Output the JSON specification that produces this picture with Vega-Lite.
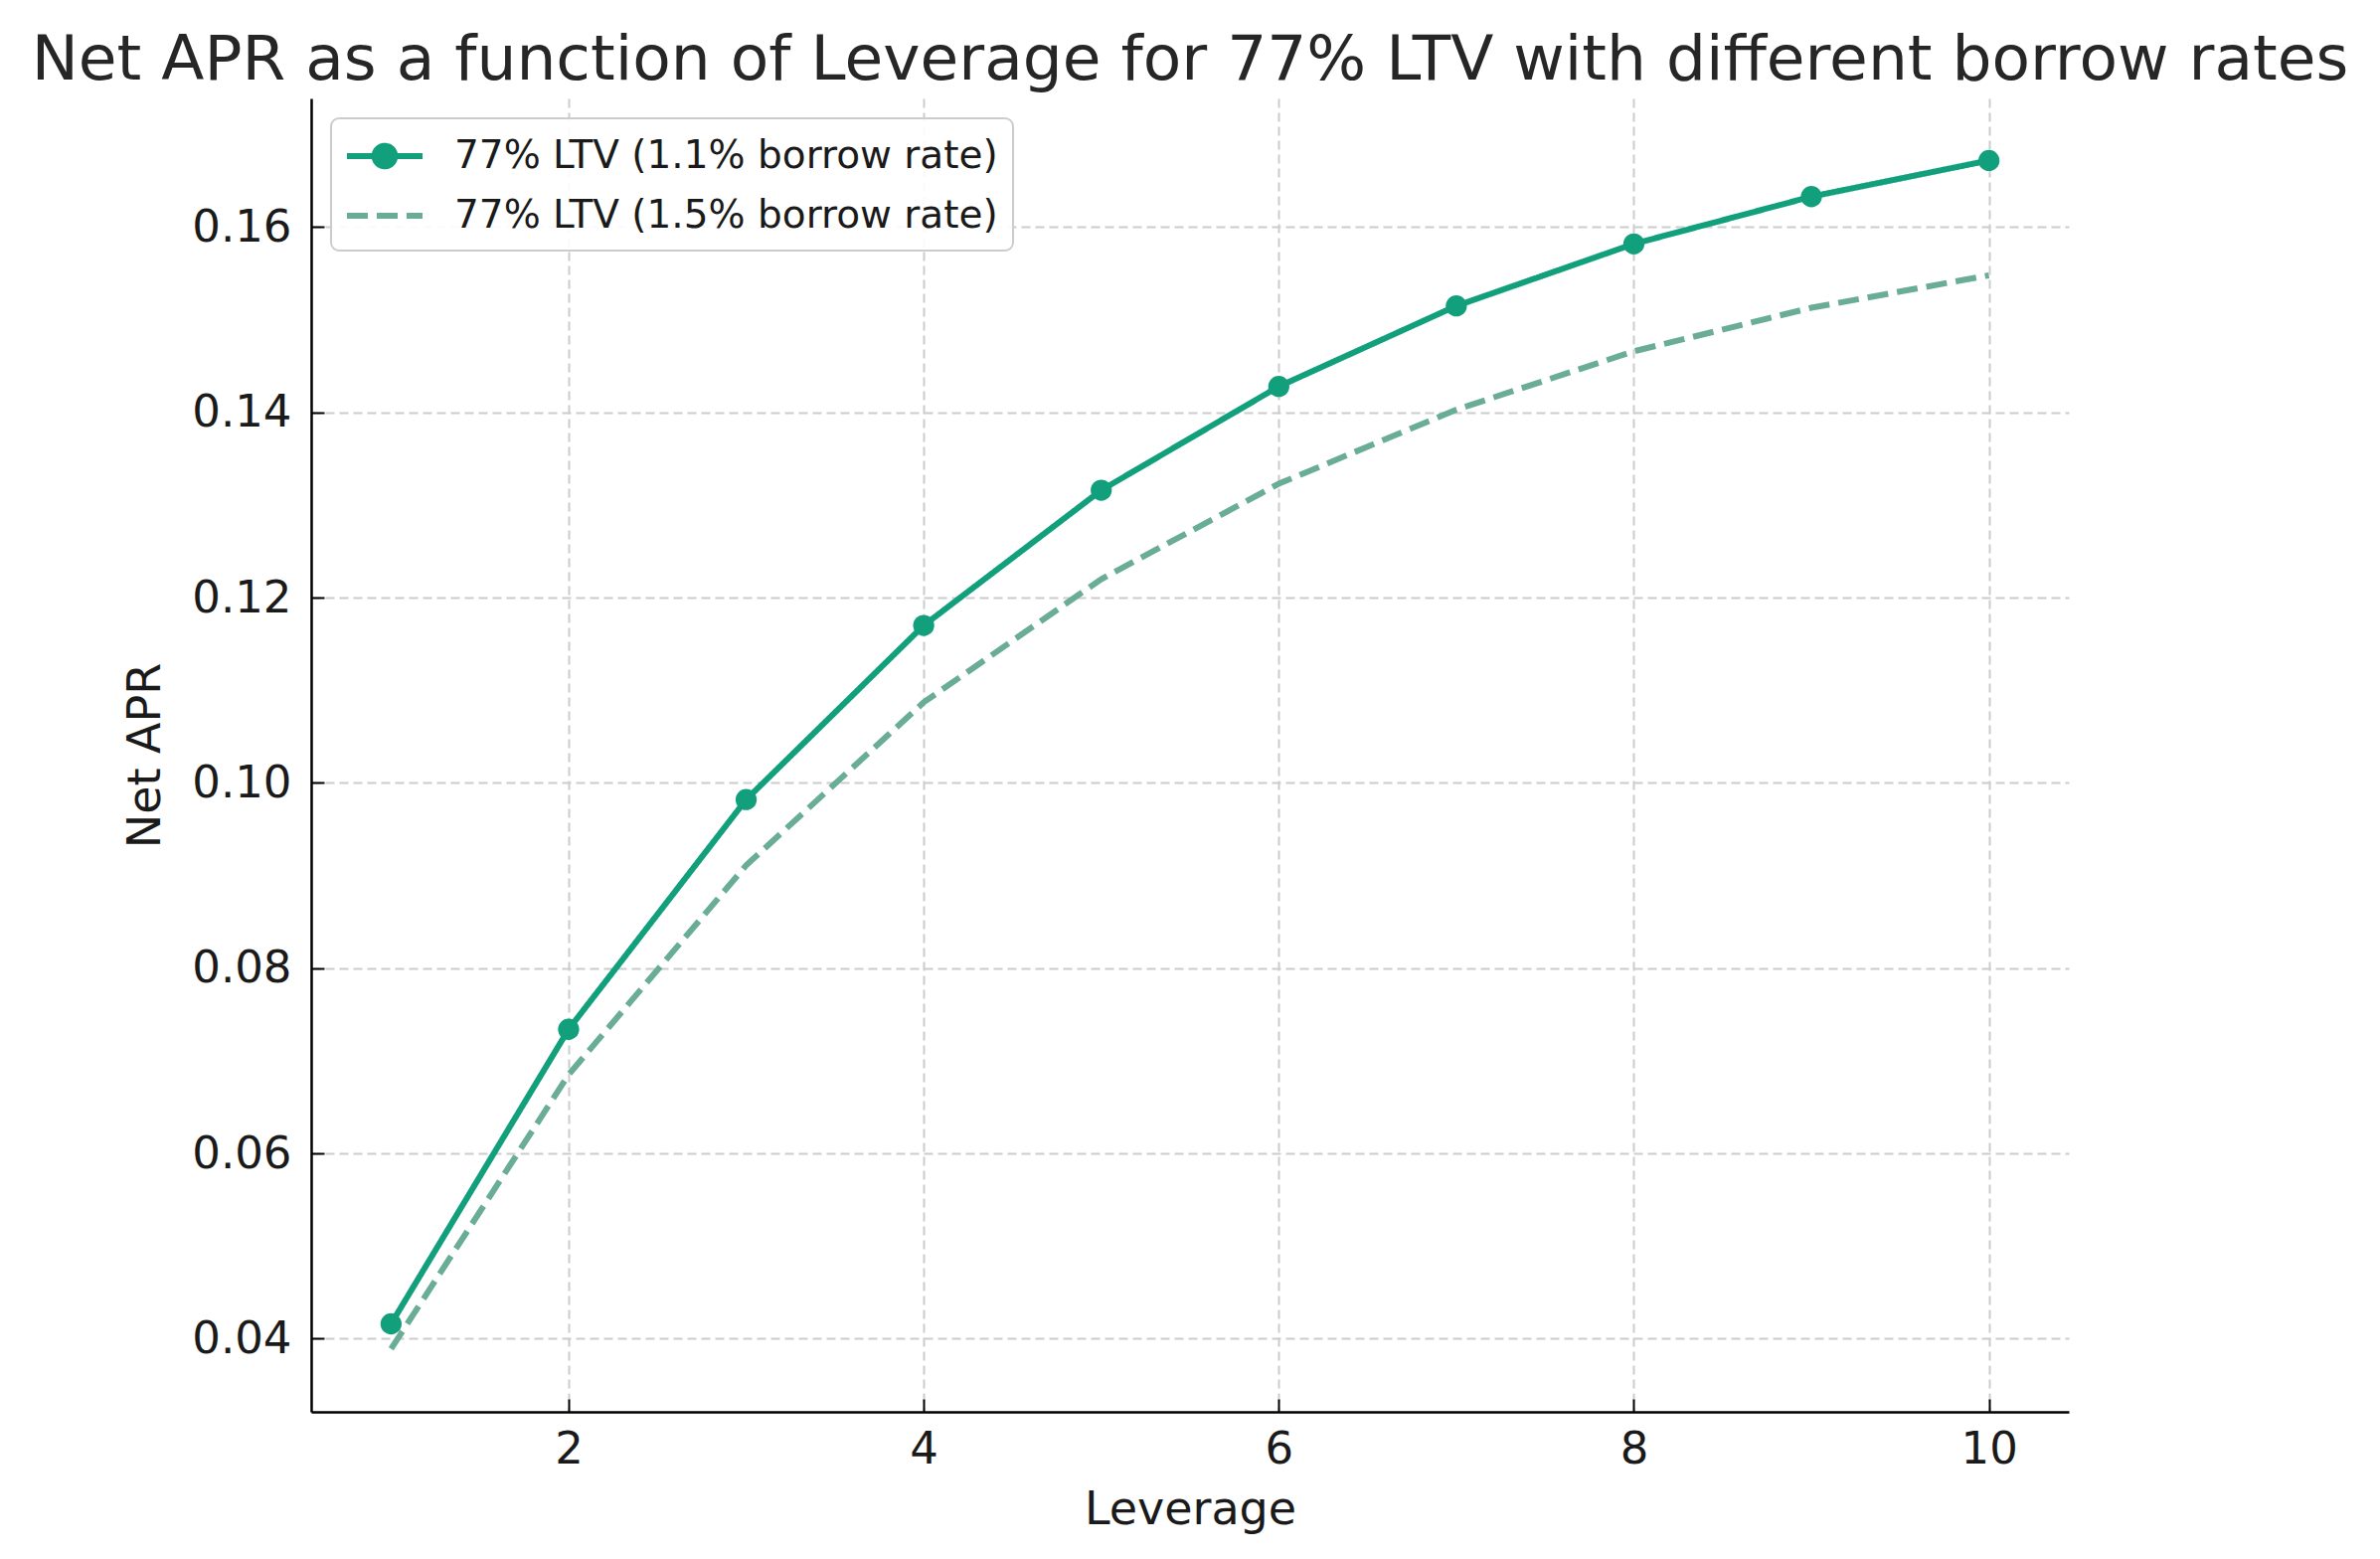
{
  "$schema": "https://vega.github.io/schema/vega-lite/v6.json",
  "width": 1768,
  "height": 1321,
  "autosize": {"type": "none"},
  "padding": {"left": 313, "top": 99, "right": 313, "bottom": 148},
  "background": "white",
  "title": {
    "text": "Net APR as a function of Leverage for 77% LTV with different borrow rates",
    "font": "DejaVu Sans",
    "fontSize": 63,
    "fontWeight": "normal",
    "color": "#262626",
    "anchor": "middle",
    "baseline": "alphabetic",
    "offset": -44
  },
  "config": {
    "font": "DejaVu Sans",
    "view": {"stroke": null},
    "axis": {
      "domainColor": "#000000",
      "domainWidth": 2.5,
      "tickColor": "#000000",
      "tickWidth": 2,
      "tickSize": -13,
      "labelFont": "DejaVu Sans",
      "labelFontSize": 45,
      "labelColor": "#1a1a1a",
      "titleFont": "DejaVu Sans",
      "titleFontSize": 46,
      "titleFontWeight": "normal",
      "titleColor": "#1a1a1a",
      "gridColor": "#cccccc",
      "gridDash": [9, 5],
      "gridWidth": 2
    }
  },
  "data": {
    "values": [
      {"lev": 1, "apr": 0.0416, "series": "77% LTV (1.1% borrow rate)"},
      {"lev": 2, "apr": 0.0734, "series": "77% LTV (1.1% borrow rate)"},
      {"lev": 3, "apr": 0.0982, "series": "77% LTV (1.1% borrow rate)"},
      {"lev": 4, "apr": 0.1170, "series": "77% LTV (1.1% borrow rate)"},
      {"lev": 5, "apr": 0.1316, "series": "77% LTV (1.1% borrow rate)"},
      {"lev": 6, "apr": 0.1428, "series": "77% LTV (1.1% borrow rate)"},
      {"lev": 7, "apr": 0.1515, "series": "77% LTV (1.1% borrow rate)"},
      {"lev": 8, "apr": 0.1582, "series": "77% LTV (1.1% borrow rate)"},
      {"lev": 9, "apr": 0.1633, "series": "77% LTV (1.1% borrow rate)"},
      {"lev": 10, "apr": 0.1672, "series": "77% LTV (1.1% borrow rate)"},
      {"lev": 1, "apr": 0.0389, "series": "77% LTV (1.5% borrow rate)"},
      {"lev": 2, "apr": 0.0685, "series": "77% LTV (1.5% borrow rate)"},
      {"lev": 3, "apr": 0.0911, "series": "77% LTV (1.5% borrow rate)"},
      {"lev": 4, "apr": 0.1087, "series": "77% LTV (1.5% borrow rate)"},
      {"lev": 5, "apr": 0.1220, "series": "77% LTV (1.5% borrow rate)"},
      {"lev": 6, "apr": 0.1323, "series": "77% LTV (1.5% borrow rate)"},
      {"lev": 7, "apr": 0.1403, "series": "77% LTV (1.5% borrow rate)"},
      {"lev": 8, "apr": 0.1466, "series": "77% LTV (1.5% borrow rate)"},
      {"lev": 9, "apr": 0.1513, "series": "77% LTV (1.5% borrow rate)"},
      {"lev": 10, "apr": 0.1548, "series": "77% LTV (1.5% borrow rate)"}
    ]
  },
  "encoding": {
    "x": {
      "field": "lev",
      "type": "quantitative",
      "title": "Leverage",
      "scale": {"domain": [0.55, 10.45], "nice": false, "zero": false},
      "axis": {"values": [2, 4, 6, 8, 10], "labelPadding": 28, "titlePadding": 16}
    },
    "y": {
      "field": "apr",
      "type": "quantitative",
      "title": "Net APR",
      "scale": {"domain": [0.0321, 0.1739], "nice": false, "zero": false},
      "axis": {"values": [0.04, 0.06, 0.08, 0.10, 0.12, 0.14, 0.16], "format": ".2f", "labelPadding": 33, "titlePadding": 22}
    }
  },
  "layer": [
    {
      "mark": {"type": "line", "strokeWidth": 6},
      "encoding": {
        "color": {
          "field": "series",
          "type": "nominal",
          "title": null,
          "scale": {"domain": ["77% LTV (1.1% borrow rate)", "77% LTV (1.5% borrow rate)"], "range": ["#12a07c", "#6aad96"]},
          "legend": {
            "orient": "none",
            "legendX": 20,
            "legendY": 20,
            "padding": 15,
            "fillColor": "rgba(255,255,255,0.9)",
            "strokeColor": "#cccccc",
            "cornerRadius": 8,
            "labelFont": "DejaVu Sans",
            "labelFontSize": 39,
            "labelColor": "#1a1a1a",
            "labelOffset": 63,
            "symbolSize": 1600,
            "symbolStrokeWidth": 6,
            "rowPadding": 14,
            "labelLimit": 1000,
            "encode": {
              "symbols": {
                "update": {
                  "shape": {"signal": "datum.value === '77% LTV (1.1% borrow rate)' ? 'M-1.1,0L2.7,0M1.315,0A0.515,0.515,0,1,1,0.285,0A0.515,0.515,0,1,1,1.315,0Z' : 'M-1.1,0L2.7,0'"},
                  "fill": {"signal": "datum.value === '77% LTV (1.1% borrow rate)' ? '#12a07c' : 'transparent'"}
                }
              },
              "legend": {"update": {"strokeWidth": {"value": 2}}}
            }
          }
        },
        "strokeDash": {
          "field": "series",
          "type": "nominal",
          "title": null,
          "scale": {"domain": ["77% LTV (1.1% borrow rate)", "77% LTV (1.5% borrow rate)"], "range": [[1, 0], [21, 9]]},
          "legend": null
        }
      }
    },
    {
      "transform": [{"filter": "datum.series === '77% LTV (1.1% borrow rate)'"}],
      "mark": {"type": "point", "filled": true, "opacity": 1, "size": 452},
      "encoding": {
        "color": {"field": "series", "type": "nominal", "legend": null}
      }
    }
  ]
}
